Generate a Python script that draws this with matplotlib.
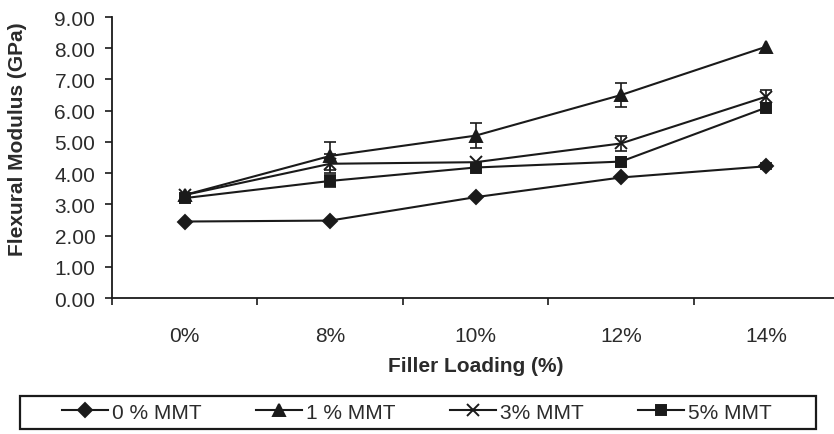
import numpy as np
import matplotlib
matplotlib.use("Agg")
import matplotlib.pyplot as plt
from matplotlib.patches import Rectangle

plt.rcParams['font.family'] = ['Liberation Sans', 'DejaVu Sans']

LOADINGS = ["0%", "8%", "10%", "12%", "14%"]
SERIES = ["0 % MMT", "1 % MMT", "3% MMT", "5% MMT"]

MMT_0 = [2.45, 2.48, 3.23, 3.86, 4.22]
MMT_1 = [3.30, 4.55, 5.20, 6.50, 8.05]
MMT_3 = [3.30, 4.30, 4.35, 4.95, 6.45]
MMT_5 = [3.20, 3.75, 4.18, 4.37, 6.10]

ERR_0 = [0.00, 0.00, 0.00, 0.00, 0.10]
ERR_1 = [0.00, 0.45, 0.40, 0.38, 0.00]
ERR_3 = [0.00, 0.30, 0.00, 0.25, 0.20]
ERR_5 = [0.00, 0.20, 0.00, 0.15, 0.00]

MARKERS = ["D", "^", "x", "s"]
MSIZE = [7, 8, 8, 6.5]
INK = "#1a1a1a"
TXT = "#2b2b2b"
FS = 15

fig = plt.figure(figsize=(8.34, 4.35), dpi=100)
ax = fig.add_axes([0.1343, 0.3126, 0.8717, 0.646])

x = np.arange(len(LOADINGS))
vals = [MMT_0, MMT_1, MMT_3, MMT_5]
errs = [ERR_0, ERR_1, ERR_3, ERR_5]

for name, v, e, m, ms in zip(SERIES, vals, errs, MARKERS, MSIZE):
    v = np.array(v)
    e = np.array(e)
    ax.plot(x, v, color=INK, lw=1.5, marker=m, ms=ms, mec=INK, mfc=INK,
            mew=1.4, label=name)
    keep = e > 0
    ax.errorbar(x[keep], v[keep], yerr=e[keep], fmt="none", ecolor=INK,
                elinewidth=1.2, capsize=4, capthick=1.2)

ax.set_xlim(-0.5, 4.5)
ax.set_ylim(0, 9)
ax.set_yticks(np.arange(0, 10, 1))
ax.set_yticklabels([f"{t:.2f}" for t in range(10)])

ax.set_xticks(np.arange(-0.5, 5.0, 1))
ax.set_xticklabels([])
ax.set_xticks(x, minor=True)
ax.set_xticklabels(LOADINGS, minor=True)
ax.tick_params(axis="x", which="minor", length=0, pad=20, labelsize=FS, labelcolor=TXT)
ax.tick_params(axis="x", which="major", length=5, width=1.2, color=INK)
ax.tick_params(axis="y", length=5, width=1.2, color=INK, labelsize=FS, labelcolor=TXT, pad=7)

for s in ["top", "right"]:
    ax.spines[s].set_visible(False)
for s in ["left", "bottom"]:
    ax.spines[s].set_linewidth(1.3)
    ax.spines[s].set_color(INK)

ax.set_ylabel("Flexural Modulus (GPa)", fontsize=FS, fontweight="bold", color=TXT)
ax.yaxis.set_label_coords(-0.117, 0.57)
ax.set_xlabel("Filler Loading (%)", fontsize=FS, fontweight="bold", color=TXT, labelpad=8)

# legend box drawn separately so it can span the figure width
fig.patches.append(Rectangle((0.024, 0.012), 0.954, 0.075, transform=fig.transFigure,
                             fill=False, edgecolor=INK, linewidth=1.6))
leg = fig.legend(loc="center", bbox_to_anchor=(0.5, 0.05), ncol=4, fontsize=FS,
                 frameon=False, handlelength=2.2, handletextpad=0.2,
                 columnspacing=2.6)
for t in leg.get_texts():
    t.set_color(TXT)

fig.savefig("out.png", dpi=100)
